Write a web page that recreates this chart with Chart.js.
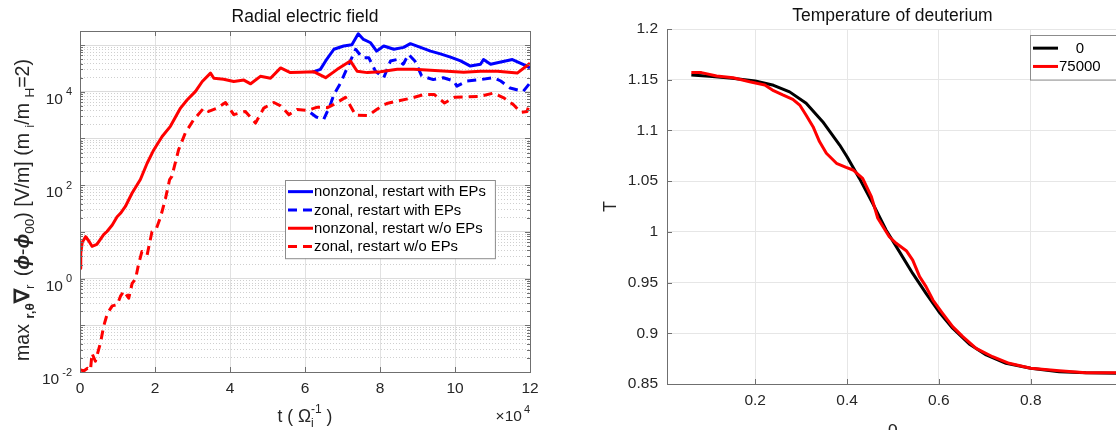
<!DOCTYPE html>
<html>
<head>
<meta charset="utf-8">
<title>Radial electric field / Temperature of deuterium</title>
<script src="https://cdn.jsdelivr.net/npm/chart.js@4.4.1/dist/chart.umd.min.js"></script>
<style>
  html, body { margin: 0; padding: 0; background: #fff; width: 1116px; height: 430px; overflow: hidden; }
  canvas { position: absolute; top: 0; }
  #efield { left: 0; }
  #temp { left: 560px; }
</style>
</head>
<body>
<canvas id="efield" width="560" height="430"></canvas>
<canvas id="temp" width="560" height="430"></canvas>
<script>
const FONT = '"Liberation Sans", Arial, Helvetica, sans-serif';
const AXIS_COLOR = '#6f6f6f';
const TEXT_COLOR = '#262626';

// ---- left panel: max radial field, t in units of 1e4 (axis shows x10^4) ----
const tRedSolid = [0, 0.02, 0.06, 0.15, 0.24, 0.32, 0.45, 0.63, 0.72, 0.86, 0.99, 1.08, 1.21, 1.39, 1.61, 1.79, 1.97, 2.19, 2.41, 2.68,
  2.86, 3.08, 3.26, 3.48, 3.57, 3.83, 4.1, 4.37, 4.55, 4.81, 5.08, 5.35, 5.61, 5.88, 6.23, 6.55, 6.86, 7.21, 7.39, 7.66,
  8.01, 8.46, 8.9, 9.35, 9.79, 10.23, 10.68, 11.13, 11.66, 12];
const eRedSolid = [1.66, 3.5, 6.0, 7.9, 6.3, 4.9, 5.4, 8.7, 10.2, 14, 21, 25, 35, 68, 132, 295, 575, 1100, 1820, 4470,
  6760, 10200, 16600, 25100, 19500, 18600, 16600, 17800, 14800, 21400, 19500, 32400, 25700, 26300, 26900, 20000, 30200, 45700, 27500, 25700,
  26900, 30200, 30200, 28800, 27500, 26300, 27500, 27500, 25100, 40700];

const tRedDash = [0, 0.1, 0.2, 0.28, 0.32, 0.41, 0.55, 0.63, 0.73, 0.86, 0.99, 1.08, 1.17, 1.3, 1.39, 1.48, 1.56, 1.65, 1.79, 1.92,
  2.04, 2.15, 2.28, 2.39, 2.45, 2.63, 2.81, 3.03, 3.3, 3.43, 3.66, 3.88, 4.1, 4.41, 4.68, 4.9, 5.17, 5.35, 5.57, 5.79,
  6.06, 6.33, 6.6, 6.77, 7.08, 7.35, 7.69, 7.91, 8.18, 8.45, 8.81, 9.17, 9.45, 9.72, 9.99, 10.3, 10.65, 11.02, 11.3, 11.56,
  11.75, 11.92, 12];
const eRedDash = [0.0112, 0.0105, 0.012, 0.011, 0.025, 0.017, 0.043, 0.095, 0.18, 0.26, 0.275, 0.42, 0.54, 0.38, 0.79, 0.98, 2.0, 3.8, 3.2, 10.2,
  12, 21, 52, 132, 155, 575, 1320, 2510, 4470, 3800, 4470, 5890, 3240, 3800, 2140, 4470, 5890, 5010, 3240, 4170,
  3980, 4680, 4570, 5370, 7590, 3160, 3090, 4170, 5620, 6310, 7240, 8710, 8710, 5750, 7590, 7760, 7940, 9330, 7410, 5250,
  3630, 3800, 5750];

const tBlueSolid = [6.2, 6.41, 6.55, 6.77, 7.03, 7.25, 7.42, 7.56, 7.75, 7.91, 8.1, 8.37, 8.63, 8.81, 9.08, 9.35, 9.61, 9.88, 10.15, 10.41,
  10.68, 10.76, 10.95, 11.13, 11.53, 11.83, 12];
const eBlueSolid = [26300, 30200, 45700, 81300, 95500, 102000, 174000, 132000, 112000, 74100, 95500, 81300, 89100, 107000, 89100, 74100, 64600, 55000, 45700, 35500,
  38900, 49000, 38900, 41700, 49000, 38000, 32400];

const tBlueDash = [6.15, 6.3, 6.5, 6.68, 6.77, 6.95, 7.17, 7.35, 7.53, 7.7, 7.88, 8.1, 8.28, 8.45, 8.62, 8.76, 8.93, 9.11, 9.42, 9.69,
  9.97, 10.05, 10.32, 10.68, 11.03, 11.22, 11.47, 11.82, 12];
const eBlueDash = [3550, 2880, 2570, 5370, 8710, 15500, 38900, 81300, 53700, 53700, 27500, 20000, 45700, 49000, 38900, 63100, 45700, 21900, 18200, 20000,
  17000, 13200, 17000, 18200, 20000, 17000, 12000, 10200, 15500];

const efieldLabels = ['nonzonal, restart with EPs', 'zonal, restart with EPs', 'nonzonal, restart w/o EPs', 'zonal, restart w/o EPs'];
const tTicks = [0, 2, 4, 6, 8, 10, 12];
const eDecades = [-2, 0, 2, 4];

// ---- right panel: deuterium temperature profile ----
const rhoInit = [0.061, 0.1, 0.15, 0.2, 0.24, 0.275, 0.311, 0.347, 0.384, 0.4, 0.427, 0.456, 0.485, 0.514, 0.543, 0.572, 0.6, 0.63, 0.666, 0.703,
  0.746, 0.8, 0.862, 0.92, 0.99];
const tempInit = [1.1547, 1.1535, 1.1515, 1.1487, 1.1445, 1.138, 1.1267, 1.1086, 1.0856, 1.074, 1.0527, 1.028, 1.0018, 0.9805, 0.959, 0.9394, 0.9213, 0.905, 0.8894, 0.8786,
  0.8704, 0.8655, 0.8621, 0.861, 0.8605];
const rhoLate = [0.061, 0.083, 0.116, 0.152, 0.188, 0.221, 0.24, 0.26, 0.282, 0.297, 0.311, 0.326, 0.34, 0.355, 0.377, 0.398, 0.413, 0.434, 0.453, 0.467,
  0.492, 0.507, 0.529, 0.543, 0.558, 0.572, 0.587, 0.608, 0.63, 0.652, 0.681, 0.717, 0.753, 0.8, 0.862, 0.92, 0.99];
const tempLate = [1.157, 1.157, 1.1537, 1.152, 1.148, 1.1448, 1.1392, 1.135, 1.1307, 1.125, 1.115, 1.1037, 1.089, 1.0775, 1.0676, 1.0636, 1.061, 1.0528, 1.0347, 1.0134,
  0.9952, 0.9887, 0.9814, 0.9722, 0.9558, 0.946, 0.9328, 0.9197, 0.9065, 0.8967, 0.8852, 0.8769, 0.8704, 0.8655, 0.863, 0.8612, 0.861];
const tempLabels = ['    0', '75000'];
const rhoTicks = [0.2, 0.4, 0.6, 0.8];
const tempTicks = [0.85, 0.9, 0.95, 1, 1.05, 1.1, 1.15, 1.2];

Chart.defaults.font.family = FONT;

const isDecade = v => Math.abs(Math.log10(v) - Math.round(Math.log10(v))) < 1e-6;
const toPoints = (xs, ys) => xs.map((x, i) => ({ x: x, y: ys[i] }));

function fontStr(size, style) {
  return (style ? style + ' ' : '') + size + 'px ' + FONT;
}

// text with sub/superscripts: parts {t, s, dy, f, gap, stack}
function drawRich(ctx, parts, x, y, align, rot, color) {
  ctx.save();
  ctx.translate(x, y);
  if (rot) ctx.rotate(rot);
  ctx.fillStyle = color || TEXT_COLOR;
  ctx.textAlign = 'left';
  ctx.textBaseline = 'alphabetic';
  let total = 0;
  for (const p of parts) {
    ctx.font = fontStr(p.s, p.f);
    if (!p.stack) total += ctx.measureText(p.t).width + (p.gap || 0);
  }
  let cx = align === 'center' ? -total / 2 : (align === 'right' ? -total : 0);
  for (const p of parts) {
    ctx.font = fontStr(p.s, p.f);
    ctx.fillText(p.t, cx, p.dy || 0);
    if (!p.stack) cx += ctx.measureText(p.t).width + (p.gap || 0);
  }
  ctx.restore();
}

// boxed legend placed inside the axes like the matlab one
const boxLegend = {
  id: 'boxLegend',
  afterDraw(chart, args, opts) {
    const ctx = chart.ctx;
    const ds = chart.data.datasets;
    ctx.save();
    ctx.font = fontStr(opts.size);
    const tw = Math.max(...ds.map(d => ctx.measureText(d.label).width));
    const w = 29 + tw + opts.padR;
    const h = opts.rowH * ds.length + opts.padV * 2;
    ctx.fillStyle = '#fff';
    ctx.fillRect(opts.x, opts.y, w, h);
    ctx.strokeStyle = '#8c8c8c';
    ctx.lineWidth = 1;
    ctx.strokeRect(opts.x + 0.5, opts.y + 0.5, w, h);
    ds.forEach((d, i) => {
      const yy = opts.y + opts.padV + opts.rowH * (i + 0.5);
      ctx.strokeStyle = d.borderColor;
      ctx.lineWidth = d.borderWidth;
      ctx.setLineDash(d.borderDash || []);
      ctx.beginPath();
      ctx.moveTo(opts.x + 3, yy);
      ctx.lineTo(opts.x + 28, yy);
      ctx.stroke();
      ctx.setLineDash([]);
      ctx.fillStyle = '#000';
      ctx.textBaseline = 'middle';
      ctx.fillText(d.label, opts.x + 29, yy + 0.5);
    });
    ctx.restore();
  }
};

const efieldDecor = {
  id: 'efieldDecor',
  afterDraw(chart) {
    const { ctx, chartArea: a, scales: { x, y } } = chart;
    ctx.save();
    ctx.strokeStyle = AXIS_COLOR;
    ctx.lineWidth = 1;
    ctx.beginPath();
    for (const t of x.ticks) {
      const px = Math.round(x.getPixelForValue(t.value)) + 0.5;
      ctx.moveTo(px, a.bottom); ctx.lineTo(px, a.bottom - 5);
      ctx.moveTo(px, a.top); ctx.lineTo(px, a.top + 5);
    }
    for (const t of y.ticks) {
      const py = Math.round(y.getPixelForValue(t.value)) + 0.5;
      const len = isDecade(t.value) ? 5 : 3;
      ctx.moveTo(a.left, py); ctx.lineTo(a.left + len, py);
      ctx.moveTo(a.right, py); ctx.lineTo(a.right - len, py);
    }
    ctx.stroke();
    ctx.strokeRect(Math.round(a.left) + 0.5, Math.round(a.top) + 0.5, Math.round(a.right - a.left), Math.round(a.bottom - a.top));
    ctx.restore();

    for (const k of eDecades) {
      const py = y.getPixelForValue(Math.pow(10, k));
      drawRich(ctx, [{ t: '10', s: 15.5, dy: 12, gap: 3 }, { t: String(k), s: 11, dy: 3.5 }], a.left - 8, py, 'right');
    }
    drawRich(ctx, [{ t: '\u00d710', s: 15.5, dy: 0, gap: 2 }, { t: '4', s: 11, dy: -8 }], a.right, 421, 'right');

    const cxMid = (a.left + a.right) / 2;
    drawRich(ctx, [{ t: 'Radial electric field', s: 17.5 }], cxMid, 22, 'center', 0, '#111');
    drawRich(ctx, [
      { t: 't ( ', s: 17.5 }, { t: '\u03a9', s: 17.5 },
      { t: 'i', s: 12, dy: 5, stack: true }, { t: '-1', s: 12, dy: -9 },
      { t: ' )', s: 17.5 }
    ], cxMid, 422, 'center');

    drawRich(ctx, [
      { t: 'max ', s: 19.5 }, { t: 'r,\u03b8', s: 13.5, dy: 4.5, f: 'bold' }, { t: '\u2207', s: 21, f: 'bold' },
      { t: 'r', s: 13.5, dy: 4.5, gap: 3 }, { t: ' (', s: 19.5 }, { t: '\u03d5', s: 19.5, f: 'bold italic' },
      { t: '-', s: 19.5 }, { t: '\u03d5', s: 19.5, f: 'bold italic' }, { t: '00', s: 13.5, dy: 4.5 },
      { t: ') [V/m] (m ', s: 19.5 }, { t: 'i', s: 13.5, dy: 4.5 }, { t: '/m ', s: 19.5 },
      { t: 'H', s: 13.5, dy: 4.5 }, { t: '=2)', s: 19.5 }
    ], 29, 210, 'center', -Math.PI / 2);
  }
};

const tempDecor = {
  id: 'tempDecor',
  afterDraw(chart) {
    const { ctx, chartArea: a, scales: { x, y } } = chart;
    ctx.save();
    ctx.strokeStyle = AXIS_COLOR;
    ctx.lineWidth = 1;
    ctx.beginPath();
    for (const t of x.ticks) {
      const px = Math.round(x.getPixelForValue(t.value)) + 0.5;
      ctx.moveTo(px, a.bottom); ctx.lineTo(px, a.bottom - 5);
    }
    for (const t of y.ticks) {
      const py = Math.round(y.getPixelForValue(t.value)) + 0.5;
      ctx.moveTo(a.left, py); ctx.lineTo(a.left + 5, py);
    }
    ctx.stroke();
    ctx.restore();

    const cxMid = (a.left + a.right) / 2;
    drawRich(ctx, [{ t: 'Temperature of deuterium', s: 17.5 }], cxMid, 21, 'center', 0, '#111');
    drawRich(ctx, [{ t: 'T', s: 18 }], 56, (a.top + a.bottom) / 2, 'center', -Math.PI / 2);
    drawRich(ctx, [{ t: '\u03c1', s: 18 }], cxMid, 434, 'center');
  }
};

const lineDefaults = { pointRadius: 0, tension: 0, fill: false, borderJoinStyle: 'round' };

// minor/major positions for the log grid
const logGrid = [];
for (let e = -2; e <= 5; e++) {
  for (let k = 1; k <= 9; k++) {
    const v = k * Math.pow(10, e);
    if (v >= 0.01 && v <= 2e5 * 1.0001) logGrid.push(v);
  }
}

new Chart(document.getElementById('efield'), {
  type: 'line',
  data: {
    datasets: [
      { ...lineDefaults, label: efieldLabels[0], data: toPoints(tBlueSolid, eBlueSolid), borderColor: '#0000ff', borderWidth: 3, order: 4 },
      { ...lineDefaults, label: efieldLabels[1], data: toPoints(tBlueDash, eBlueDash), borderColor: '#0000ff', borderWidth: 3, borderDash: [9, 6], order: 3 },
      { ...lineDefaults, label: efieldLabels[2], data: toPoints(tRedSolid, eRedSolid), borderColor: '#ff0000', borderWidth: 3, order: 2 },
      { ...lineDefaults, label: efieldLabels[3], data: toPoints(tRedDash, eRedDash), borderColor: '#ff0000', borderWidth: 3, borderDash: [9, 6], order: 1 }
    ]
  },
  options: {
    responsive: false,
    animation: false,
    events: [],
    layout: { padding: { left: 0, top: 31, right: 30, bottom: 0 } },
    plugins: {
      legend: { display: false },
      tooltip: { enabled: false },
      boxLegend: { x: 285, y: 180, rowH: 18.3, padV: 2.5, padR: 9, size: 14.8 }
    },
    scales: {
      x: {
        type: 'linear', min: 0, max: 12,
        afterBuildTicks: s => { s.ticks = tTicks.map(v => ({ value: v })); },
        afterFit: s => { s.height = 58; },
        grid: { color: '#e1e1e1', drawTicks: false },
        border: { color: AXIS_COLOR },
        ticks: { color: TEXT_COLOR, font: { size: 15.5 }, padding: 7, maxRotation: 0, autoSkip: false, callback: v => String(v) }
      },
      y: {
        type: 'logarithmic', min: 0.01, max: 2e5,
        afterBuildTicks: s => { s.ticks = logGrid.map(v => ({ value: v })); },
        afterFit: s => { s.width = 80; },
        grid: { drawTicks: false, color: c => (c.tick && isDecade(c.tick.value)) ? '#dcdcdc' : '#cfcfcf' },
        border: { color: AXIS_COLOR, dash: c => (c.tick && !isDecade(c.tick.value)) ? [1, 2] : [] },
        ticks: { display: false }
      }
    }
  },
  plugins: [efieldDecor, boxLegend]
});

new Chart(document.getElementById('temp'), {
  type: 'line',
  data: {
    datasets: [
      { ...lineDefaults, label: tempLabels[0], data: toPoints(rhoInit, tempInit), borderColor: '#000000', borderWidth: 3, order: 2 },
      { ...lineDefaults, label: tempLabels[1], data: toPoints(rhoLate, tempLate), borderColor: '#ff0000', borderWidth: 3, order: 1 }
    ]
  },
  options: {
    responsive: false,
    animation: false,
    events: [],
    layout: { padding: { left: 0, top: 29, right: 2, bottom: 0 } },
    plugins: {
      legend: { display: false },
      tooltip: { enabled: false },
      boxLegend: { x: 470, y: 35, rowH: 18.3, padV: 4, padR: 20, size: 15 }
    },
    scales: {
      x: {
        type: 'linear', min: 0.008, max: 0.99,
        afterBuildTicks: s => { s.ticks = rhoTicks.map(v => ({ value: v })); },
        afterFit: s => { s.height = 46; },
        grid: { color: '#e6e6e6', drawTicks: false },
        border: { color: AXIS_COLOR },
        ticks: { color: TEXT_COLOR, font: { size: 15.5 }, padding: 7, maxRotation: 0, autoSkip: false, callback: v => String(v) }
      },
      y: {
        type: 'linear', min: 0.85, max: 1.2,
        afterBuildTicks: s => { s.ticks = tempTicks.map(v => ({ value: v })); },
        afterFit: s => { s.width = 107; },
        grid: { color: '#e6e6e6', drawTicks: false },
        border: { color: AXIS_COLOR },
        ticks: { color: TEXT_COLOR, font: { size: 15.5 }, padding: 9, autoSkip: false, callback: v => String(v) }
      }
    }
  },
  plugins: [tempDecor, boxLegend]
});
</script>
</body>
</html>
